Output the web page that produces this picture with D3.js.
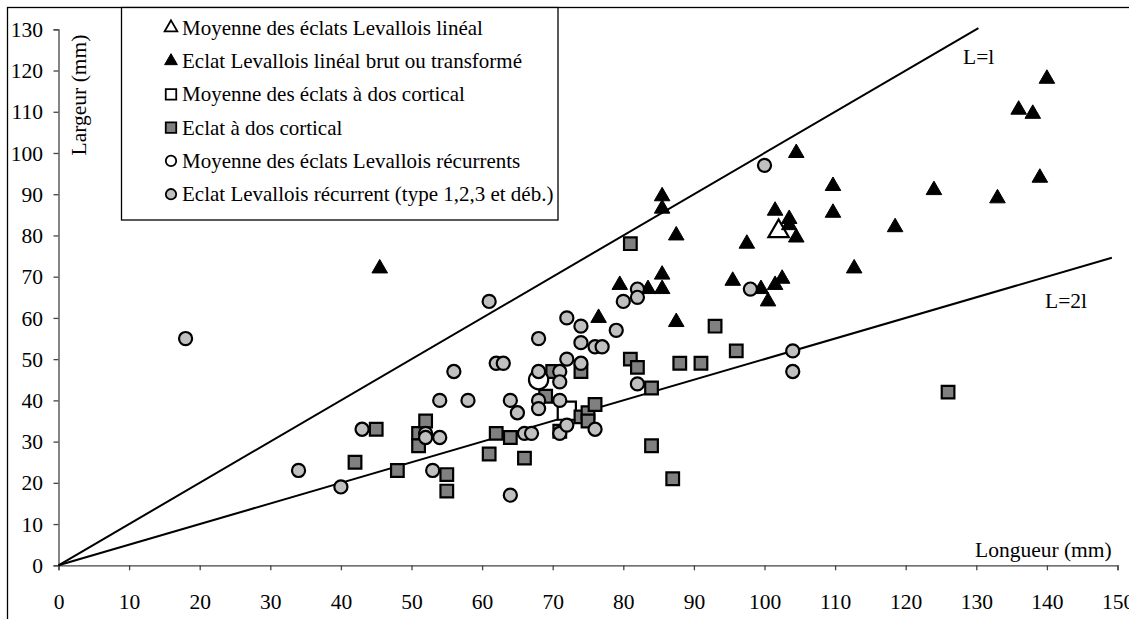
<!DOCTYPE html>
<html><head><meta charset="utf-8">
<script src="https://cdn.jsdelivr.net/npm/d3@7"></script>
<style>
body{margin:0;background:#fff;}
svg text{font-family:"Liberation Serif","Times New Roman",serif;fill:#000;}
</style></head>
<body><svg id="c" width="1129" height="619"></svg>
<script>
// ---- data ----
const xTicks = [0,10,20,30,40,50,60,70,80,90,100,110,120,130,140,150];
const yTicks = [0,10,20,30,40,50,60,70,80,90,100,110,120,130];
const legendLabels = [
  "Moyenne des éclats Levallois linéal",
  "Eclat Levallois linéal brut ou transformé",
  "Moyenne des éclats à dos cortical",
  "Eclat à dos cortical",
  "Moyenne des éclats Levallois récurrents",
  "Eclat Levallois récurrent (type 1,2,3 et déb.)"
];
const meanLineal = [[102,81]];
const lineal = [[45.5,72],[76.5,60],[79.5,68],[83.5,67],[85.5,89.5],[85.5,86.5],[85.5,70.5],[85.5,67],
  [87.5,80],[87.5,59],[95.5,69],[97.5,78],[99.5,67],[100.5,64],[101.5,68],[102.5,69.5],[101.5,86],
  [103.5,84],[103.5,82.5],[104.5,79.5],[104.5,100],[109.7,92],[109.7,85.5],[112.7,72],[118.5,82],
  [124,91],[133,89],[136,110.5],[138,109.5],[139,94],[140,118]];
const meanCortical = [[72,37.5]];
const cortical = [[42,25],[45,33],[48,23],[51,32],[51,29],[52,35],[55,22],[55,18],[61,27],[62,32],
  [64,31],[66,26],[69,41],[70,47],[74,47],[74,36],[75,37],[75,35],[76,39],[71,32.5],[81,78],[81,50],
  [82,48],[84,43],[84,29],[87,21],[88,49],[91,49],[93,58],[96,52],[126,42]];
const meanRecurrent = [[68,45]];
const recurrent = [[18,55],[34,23],[40,19],[43,33],[52,32],[52,31],[53,23],[54,40],[54,31],[56,47],
  [58,40],[61,64],[62,49],[63,49],[64,40],[64,17],[65,37],[66,32],[67,32],[68,55],[68,47],[68,40],
  [68,38],[71,47],[71,44.5],[71,40],[71,32],[72,60],[72,50],[72,34],[74,58],[74,54],[74,49],[76,53],
  [77,53],[76,33],[79,57],[80,64],[82,67],[82,65],[82,44],[98,67],[100,97],[104,52],[104,47]];
const refLines = [{label:"L=l", ratio:1, xEnd:130.3}, {label:"L=2l", ratio:0.5, xEnd:149.2}];

// ---- drawing ----
const svg = d3.select("#c");
const FS = 21.5;
const LFS = 21;
const x = d3.scaleLinear().domain([0,150]).range([58.5,1117.5]);
const y = d3.scaleLinear().domain([0,130]).range([565.3,29.3]);

// outer frame
svg.append("rect").attr("x",7.5).attr("y",7.5).attr("width",1300).attr("height",800)
  .attr("fill","none").attr("stroke","#000").attr("stroke-width",1.3);

// axes
const gx = svg.append("g").attr("transform",`translate(0,${y(0)})`)
  .call(d3.axisBottom(x).tickValues(xTicks).tickSize(5).tickFormat(d3.format("d")));
gx.selectAll("text").attr("y",0).attr("dy",0).attr("transform","translate(0,43.5)").style("font-size",FS+"px");
const gy = svg.append("g").attr("transform",`translate(${x(0)},0)`)
  .call(d3.axisLeft(y).tickValues(yTicks).tickSize(5).tickFormat(d3.format("d")));
gy.selectAll("text").attr("x",-15.5).attr("dy","0.33em").style("font-size",FS+"px");
svg.selectAll(".domain").attr("stroke","#444").attr("stroke-width",1.3);
svg.selectAll(".tick line").attr("stroke","#444").attr("stroke-width",1.3);
svg.selectAll(".tick text").attr("font-family",null);

// reference lines
refLines.forEach(r=>{
  svg.append("line").attr("x1",x(0)).attr("y1",y(0)).attr("x2",x(r.xEnd)).attr("y2",y(r.xEnd*r.ratio))
    .attr("stroke","#000").attr("stroke-width",2);
});
svg.append("text").attr("x",963).attr("y",64).style("font-size",FS+"px").text(refLines[0].label);
svg.append("text").attr("x",1045).attr("y",308).style("font-size",FS+"px").text(refLines[1].label);

// axis titles
svg.append("text").attr("x",975).attr("y",557).style("font-size",FS+"px").text("Longueur (mm)");
svg.append("text").attr("transform","translate(86,95) rotate(-90)").attr("text-anchor","middle")
  .style("font-size",FS+"px").text("Largeur (mm)");

// series
const styles = [
  {data:meanLineal, type:d3.symbolTriangle, size:180, fill:"#fff", stroke:"#000", sw:2.2, lsize:70},
  {data:lineal, type:d3.symbolTriangle, size:105, fill:"#000", stroke:"#000", sw:1, lsize:70},
  {data:meanCortical, type:d3.symbolSquare, size:330, fill:"#fff", stroke:"#000", sw:2.2, lsize:110},
  {data:cortical, type:d3.symbolSquare, size:160, fill:"#808080", stroke:"#000", sw:2.2, lsize:110},
  {data:meanRecurrent, type:d3.symbolCircle, size:290, fill:"#fff", stroke:"#000", sw:2.2, lsize:85},
  {data:recurrent, type:d3.symbolCircle, size:135, fill:"#c0c0c0", stroke:"#000", sw:2.2, lsize:85}
];
styles.forEach(s=>{
  svg.append("g").selectAll("path").data(s.data).join("path")
    .attr("transform",d=>`translate(${x(d[0])},${y(d[1])})`)
    .attr("d",d3.symbol().type(s.type).size(s.size))
    .attr("fill",s.fill).attr("stroke",s.stroke).attr("stroke-width",s.sw).attr("stroke-linejoin","miter");
});

// legend
const lg = svg.append("g");
lg.append("rect").attr("x",121.5).attr("y",7.5).attr("width",436.5).attr("height",212.5)
  .attr("fill","#fff").attr("stroke","#000").attr("stroke-width",1.3);
legendLabels.forEach((t,i)=>{
  const cy = 27.7 + i*33.3;
  const s = styles[i];
  lg.append("path").attr("transform",`translate(171,${cy})`)
    .attr("d",d3.symbol().type(s.type).size(s.lsize))
    .attr("fill",s.fill).attr("stroke",s.stroke).attr("stroke-width",s.sw===1?1:1.8);
  lg.append("text").attr("x",182).attr("y",cy+7).style("font-size",LFS+"px").text(t);
});
</script></body></html>
